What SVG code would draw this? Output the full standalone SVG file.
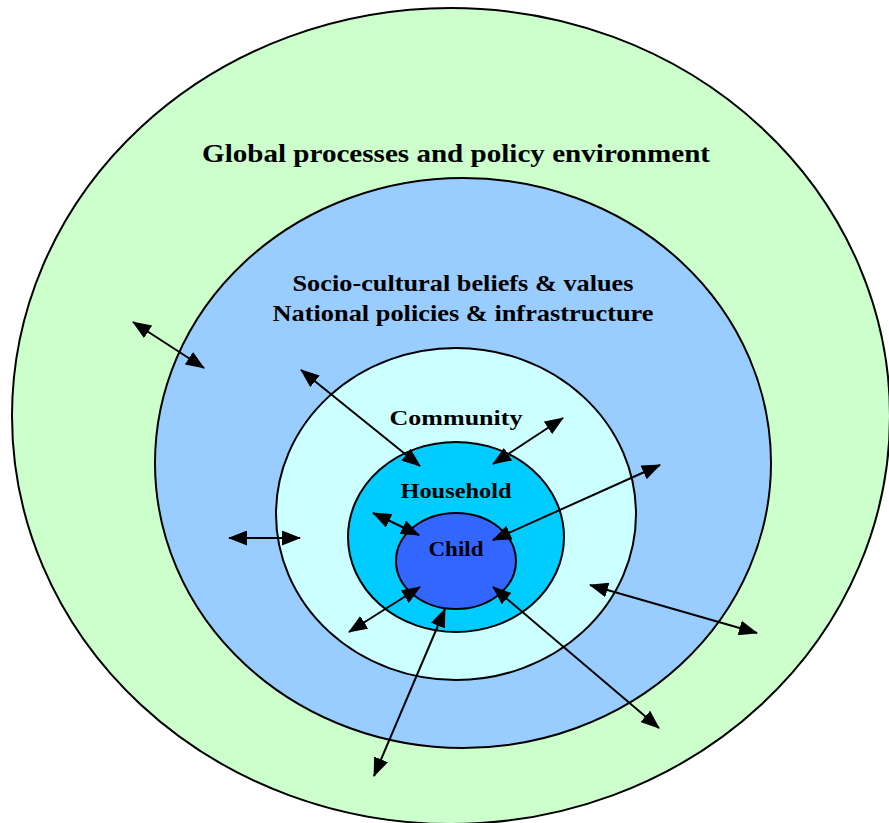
<svg xmlns="http://www.w3.org/2000/svg" width="889" height="823" viewBox="0 0 889 823">
<style>
.ring{stroke:#000;stroke-width:2}
.lbl{font-family:"Liberation Serif","DejaVu Serif",serif;font-weight:bold;fill:#000;text-anchor:middle}
.arr{stroke:#000;stroke-width:2;fill:none;marker-start:url(#ah);marker-end:url(#ah)}
</style>
<defs>
<marker id="ah" markerUnits="userSpaceOnUse" viewBox="0 0 19 15" refX="18" refY="7.5" markerWidth="19" markerHeight="15" orient="auto-start-reverse">
<path d="M0,0 L19,7.5 L0,15 Z" fill="#000"/>
</marker>
</defs>
<rect width="889" height="823" fill="#fff"/>
<g id="global"><ellipse class="ring" cx="451" cy="416" rx="439" ry="408" fill="#CCFFCC"/>
<text class="lbl" x="456" y="162" font-size="26" textLength="508" lengthAdjust="spacingAndGlyphs">Global processes and policy environment</text></g>
<g id="national"><ellipse class="ring" cx="463" cy="463" rx="308" ry="285" fill="#99CCFF"/>
<text class="lbl" x="463" y="291" font-size="23" textLength="341" lengthAdjust="spacingAndGlyphs">Socio-cultural beliefs &amp; values</text>
<text class="lbl" x="463" y="321" font-size="23" textLength="381" lengthAdjust="spacingAndGlyphs">National policies &amp; infrastructure</text></g>
<g id="community"><ellipse class="ring" cx="456" cy="514" rx="180" ry="166" fill="#CCFFFF"/>
<text class="lbl" x="456" y="425" font-size="22" textLength="133" lengthAdjust="spacingAndGlyphs">Community</text></g>
<g id="household"><ellipse class="ring" cx="456" cy="537" rx="108" ry="95" fill="#00CCFF"/>
<text class="lbl" x="456" y="498" font-size="20" textLength="111" lengthAdjust="spacingAndGlyphs">Household</text></g>
<g id="child"><ellipse class="ring" cx="456" cy="561" rx="60" ry="48" fill="#3366FF"/>
<text class="lbl" x="456" y="556" font-size="20" textLength="55" lengthAdjust="spacingAndGlyphs">Child</text></g>
<g id="connectors">
<line class="arr" x1="133" y1="322" x2="204" y2="368"/>
<line class="arr" x1="229" y1="538" x2="300" y2="538"/>
<line class="arr" x1="301" y1="370" x2="420" y2="466"/>
<line class="arr" x1="563" y1="418" x2="493" y2="464"/>
<line class="arr" x1="660" y1="465" x2="493" y2="540"/>
<line class="arr" x1="373" y1="513" x2="419" y2="535"/>
<line class="arr" x1="349" y1="632" x2="420" y2="587"/>
<line class="arr" x1="374" y1="776" x2="445" y2="609"/>
<line class="arr" x1="493" y1="587" x2="659" y2="728"/>
<line class="arr" x1="590" y1="585" x2="757" y2="633"/>
</g>
</svg>
